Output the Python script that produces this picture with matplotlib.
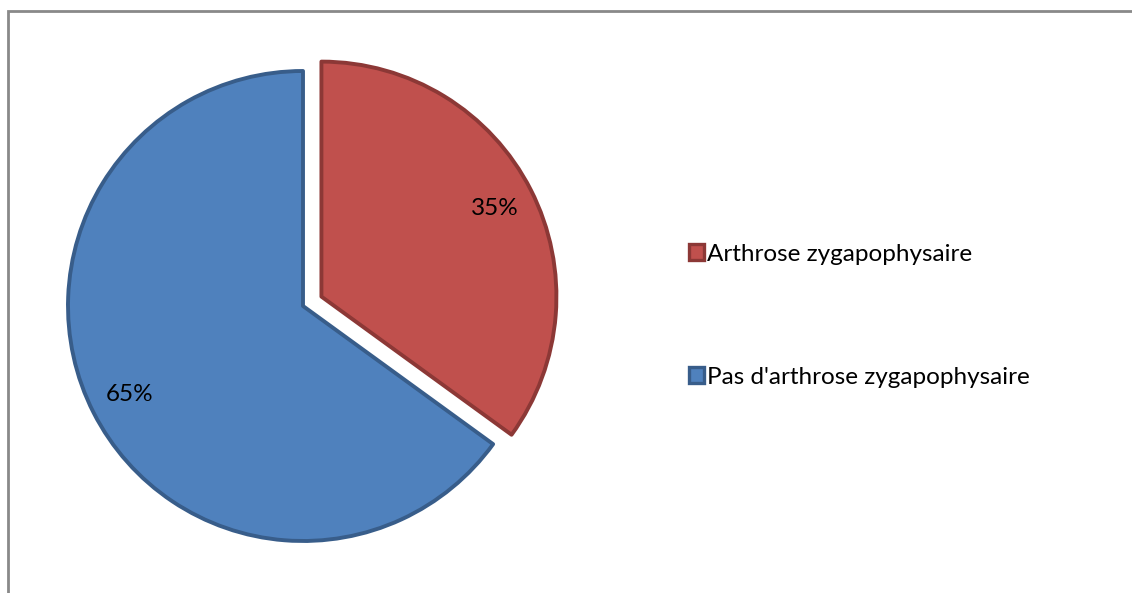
import matplotlib
matplotlib.use("Agg")
import matplotlib.pyplot as plt
from matplotlib.patches import Rectangle

# Data
categories = ["Arthrose zygapophysaire", "Pas d'arthrose zygapophysaire"]
values = [35, 65]

fill_colors = ["#C0504D", "#4F81BD"]
edge_colors = ["#8C3836", "#385D8A"]

W, H, DPI = 1132, 593, 100
fig = plt.figure(figsize=(W / DPI, H / DPI), dpi=DPI)
fig.patch.set_facecolor("white")

ax = fig.add_axes([0, 0, 1, 1])
ax.axis("off")

font = "Lato"
FS = 17.5
wedges, texts, autotexts = ax.pie(
    values,
    startangle=90,
    counterclock=False,
    explode=[0.088, 0.0],
    colors=fill_colors,
    autopct=lambda p: f"{p:.0f}%",
    pctdistance=0.83,
    wedgeprops=dict(linewidth=2.8, joinstyle="round"),
    textprops=dict(fontsize=FS, family=font, color="black"),
    frame=False,
)
for w, ec in zip(wedges, edge_colors):
    w.set_edgecolor(ec)

# Limits chosen so one data unit equals the pie radius in pixels
R_PX = 235.0
CX, CY = 303.0, H - 306.0
ax.set_aspect("auto")
ax.set_xlim(-CX / R_PX, (W - CX) / R_PX)
ax.set_ylim(-CY / R_PX, (H - CY) / R_PX)

leg = ax.legend(
    wedges, categories,
    loc="upper left",
    bbox_to_anchor=(679 / W, 1 - 234 / H),
    bbox_transform=fig.transFigure,
    frameon=False,
    handlelength=0.62, handleheight=0.62,
    handletextpad=0.12,
    labelspacing=4.2,
    borderaxespad=0,
    prop=dict(family=font, size=FS),
)
for h in leg.legend_handles:
    h.set_linewidth(2.4)

# Outer chart border (left and top edges visible)
fig.patches.append(Rectangle((7.5 / W, -0.1), 1.2, (H - 11.5) / H + 0.1,
                             transform=fig.transFigure, fill=False,
                             edgecolor="#898989", linewidth=2.0))

fig.savefig("out.png", dpi=DPI, facecolor="white")
